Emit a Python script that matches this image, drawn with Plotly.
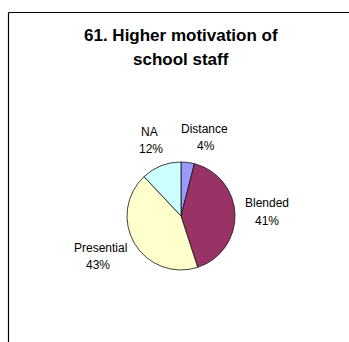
import plotly.graph_objects as go

labels = ["Distance", "Blended", "Presential", "NA"]
values = [4, 41, 43, 12]
colors = ["#9999FF", "#993366", "#FFFFCC", "#CCFFFF"]
title_lines = ["61. Higher motivation of", "school staff"]

W, H = 349, 342
cx, cy, r = 181, 216, 54
FONT = "Liberation Sans, Arial, sans-serif"

# label anchor positions (pixels, layout only): name line centre; percent line below
label_xy = {"Distance": (204, 128.5), "Blended": (266.5, 203),
            "Presential": (101, 247.5), "NA": (149.5, 131.5)}
pct_dx = {"Distance": 2, "Blended": 0, "Presential": -3, "NA": 1}
line_gap = 17.5

fig = go.Figure(go.Pie(
    labels=labels, values=values, sort=False, direction="clockwise", rotation=0,
    marker=dict(colors=colors, line=dict(color="#111111", width=0.8)),
    textinfo="none", hoverinfo="skip", showlegend=False,
    domain=dict(x=[(cx - r) / W, (cx + r) / W], y=[1 - (cy + r) / H, 1 - (cy - r) / H]),
))

total = sum(values)
annotations = []
for lab, val in zip(labels, values):
    x, y = label_xy[lab]
    annotations.append(dict(text=lab, x=x / W, y=1 - y / H, xref="paper", yref="paper",
                            xanchor="center", yanchor="middle", showarrow=False,
                            font=dict(family=FONT, size=12, color="black")))
    annotations.append(dict(text=f"{round(100 * val / total)}%", x=(x + pct_dx[lab]) / W,
                            y=1 - (y + line_gap) / H, xref="paper", yref="paper",
                            xanchor="center", yanchor="middle", showarrow=False,
                            font=dict(family=FONT, size=12, color="black")))

for i, (t, (tx, ty)) in enumerate(zip(title_lines, [(180.5, 35.5), (181, 59.5)])):
    annotations.append(dict(text=t, x=tx / W, y=1 - ty / H, xref="paper", yref="paper",
                            xanchor="center", yanchor="middle", showarrow=False,
                            font=dict(family=FONT, size=17, color="black", weight="bold")))

fig.update_layout(
    width=W, height=H, margin=dict(l=0, r=0, t=0, b=0),
    paper_bgcolor="white", plot_bgcolor="white",
    annotations=annotations,
    shapes=[
        dict(type="line", xref="paper", yref="paper", x0=8.5 / W, x1=8.5 / W, y0=0, y1=1 - 12.5 / H,
             line=dict(color="black", width=1.2)),
        dict(type="line", xref="paper", yref="paper", x0=8.5 / W, x1=1, y0=1 - 12.5 / H, y1=1 - 12.5 / H,
             line=dict(color="black", width=1.2)),
    ],
)

fig.write_html("out.html", config={"displayModeBar": False},
               post_script="document.body.style.margin='0';document.body.style.overflow='hidden';")
